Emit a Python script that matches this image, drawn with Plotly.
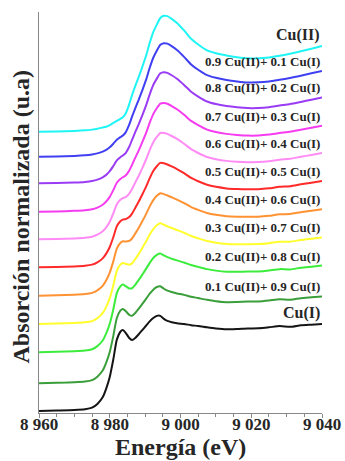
import plotly.graph_objects as go

# Photon energy grid (eV) shared by both reference spectra
energy = [8960, 8965, 8970, 8973, 8975, 8976.5, 8978, 8979, 8980, 8981, 8982,
          8983, 8983.7, 8984.5, 8985.5, 8986.3, 8987.2, 8988.2, 8989.2, 8990.3,
          8991.3, 8992.3, 8993.3, 8994.3, 8995.3, 8996.3, 8997.5, 8999, 9001,
          9003, 9005, 9007.5, 9010, 9013, 9016, 9019, 9022, 9025, 9028, 9031,
          9034, 9037, 9040]

# Normalized absorption of the Cu(II) standard
cu2 = [0.0, 0.003, 0.009, 0.016, 0.025, 0.035, 0.050, 0.060, 0.080, 0.105, 0.130,
       0.155, 0.175, 0.220, 0.330, 0.440, 0.550, 0.660, 0.780, 0.920,
       1.070, 1.200, 1.290, 1.370, 1.396, 1.392, 1.360, 1.310, 1.220,
       1.120, 1.050, 0.980, 0.945, 0.918, 0.898, 0.884, 0.885, 0.895, 0.915, 0.940,
       0.968, 1.000, 1.032]

# Normalized absorption of the Cu(I) standard
cu1 = [0.0, 0.006, 0.013, 0.022, 0.040, 0.085, 0.165, 0.270, 0.410, 0.620, 0.860,
       0.955, 0.976, 0.942, 0.880, 0.855, 0.880, 0.925, 0.975, 1.030,
       1.080, 1.120, 1.146, 1.146, 1.110, 1.085, 1.070, 1.057, 1.048,
       1.034, 1.024, 1.008, 0.994, 0.984, 0.988, 0.995, 0.996, 1.008, 1.024, 1.014,
       1.032, 1.040, 1.048]

# Cu(II) fraction of each mixture, top to bottom
cu2_fraction = [1.0, 0.9, 0.8, 0.7, 0.6, 0.5, 0.4, 0.3, 0.2, 0.1, 0.0]

# Vertical stacking offset of each spectrum
offsets = [3.365, 3.064, 2.743, 2.401, 2.069, 1.731, 1.389, 1.048, 0.707, 0.334, 0.0]

labels = ["Cu(II)",
          "0.9 Cu(II)+ 0.1 Cu(I)",
          "0.8 Cu(II)+ 0.2 Cu(I)",
          "0.7 Cu(II)+ 0.3 Cu(I)",
          "0.6 Cu(II)+ 0.4 Cu(I)",
          "0.5 Cu(II)+ 0.5 Cu(I)",
          "0.4 Cu(II)+ 0.6 Cu(I)",
          "0.3 Cu(II)+ 0.7 Cu(I)",
          "0.2 Cu(II)+ 0.8 Cu(I)",
          "0.1 Cu(II)+ 0.9 Cu(I)",
          "Cu(I)"]

colors = ["#1ff5f5", "#4040f2", "#9b3cf5", "#f53cf0", "#ff8cf5", "#ff2a2a",
          "#ff9233", "#ffff2e", "#3cec3c", "#3a9e3a", "#151515"]

tick_vals = [8960, 8980, 9000, 9020, 9040]
tick_text = ["8 960", "8 980", "9 000", "9 020", "9 040"]

SERIF = "Liberation Serif"
TEXT = "#262626"

fig = go.Figure()
for frac, off, lab, col in zip(cu2_fraction, offsets, labels, colors):
    y = [frac * a + (1 - frac) * b + off for a, b in zip(cu2, cu1)]
    fig.add_trace(go.Scatter(
        x=energy, y=y, mode="lines", name=lab,
        line=dict(color=col, width=2, shape="spline", smoothing=0.6),
        hoverinfo="skip"))
    pure = frac in (0.0, 1.0)
    fig.add_annotation(
        x=energy[-1], y=y[-1], xref="x", yref="y",
        text=lab, showarrow=False, xanchor="right", yanchor="bottom",
        yshift=0, font=dict(family=SERIF, size=16 if pure else 13,
                             color=TEXT, weight="bold"))

# Axis titles
fig.add_annotation(xref="paper", yref="paper", x=0.5, y=-0.084,
                   text="Energía (eV)", showarrow=False,
                   xanchor="center", yanchor="middle",
                   font=dict(family=SERIF, size=24, color=TEXT, weight="bold"))
fig.add_annotation(xref="paper", yref="paper", x=-0.067, y=0.49,
                   text="Absorción normalizada (u.a)", showarrow=False,
                   textangle=-90, xanchor="center", yanchor="middle",
                   font=dict(family=SERIF, size=24, color=TEXT, weight="bold"))

fig.update_layout(
    width=345, height=461,
    margin=dict(l=39, r=23, t=12, b=48),
    paper_bgcolor="white", plot_bgcolor="white",
    showlegend=False,
    xaxis=dict(range=[8960, 9040], showgrid=False, zeroline=False,
               automargin=False,
               showline=True, linecolor="#888888", linewidth=1,
               ticks="outside", ticklen=4, tickcolor="#888888",
               tickvals=tick_vals, ticktext=tick_text,
               ticklabelstandoff=-8,
               tickfont=dict(family=SERIF, size=17, color=TEXT, weight="bold"),
               minor=dict(ticks="outside", dtick=5, ticklen=3,
                          tickcolor="#888888"),
               fixedrange=True),
    yaxis=dict(range=[-0.024, 4.807], showgrid=False, zeroline=False,
               automargin=False,
               showline=True, linecolor="#888888", linewidth=1,
               showticklabels=False, ticks="", fixedrange=True),
)

fig.write_html("out.html")
